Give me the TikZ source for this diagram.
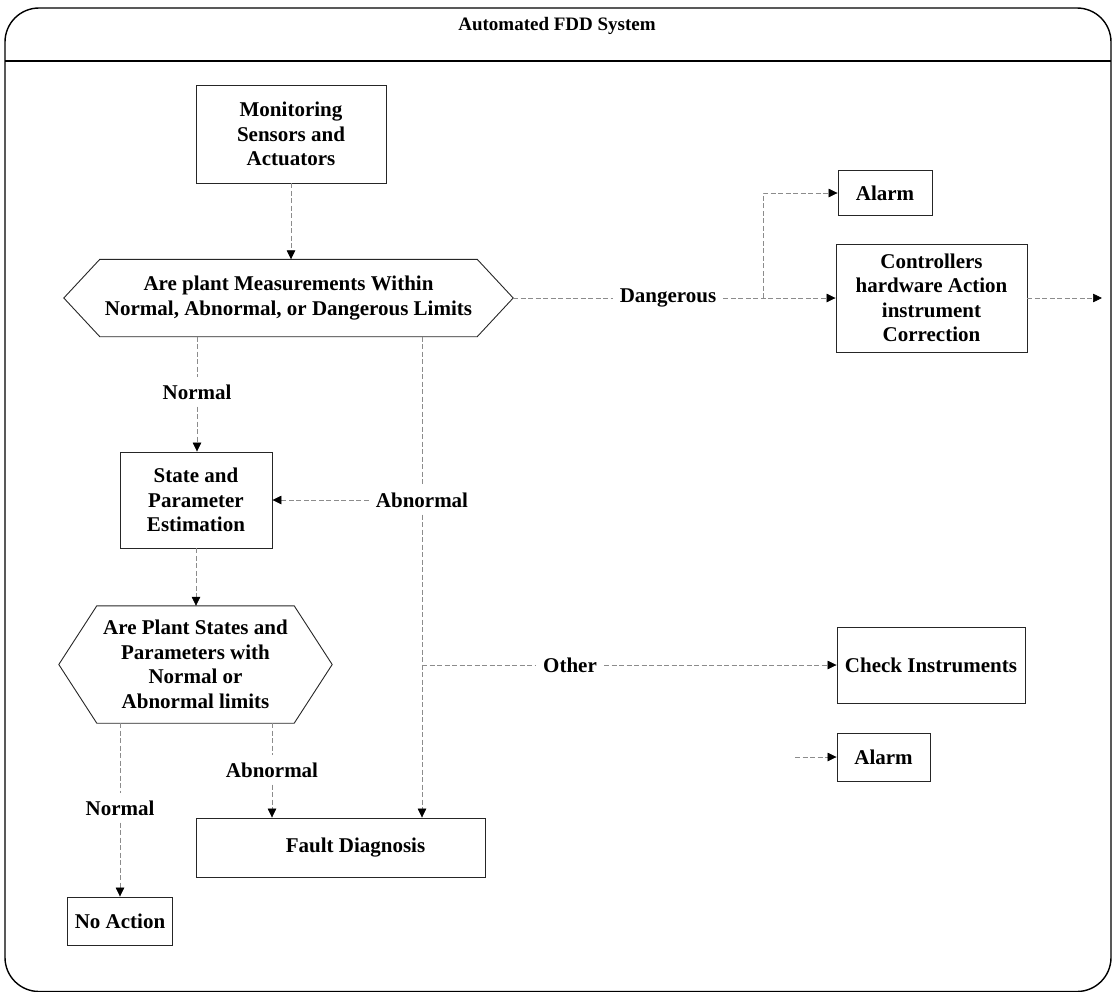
\documentclass[tikz,border=0pt]{standalone}
\usepackage{fontspec}
\setmainfont{Liberation Serif}
\usetikzlibrary{arrows.meta,calc}
% outline of a six-sided decision node, #1 = node name, #2 = horizontal cut
\newcommand\hexframe[2]{%
  \draw[boxline] (#1.west) -- ($(#1.north west)+(#2,0)$) -- ($(#1.north east)+(-#2,0)$)
    -- (#1.east) -- ($(#1.south east)+(-#2,0)$) -- ($(#1.south west)+(#2,0)$) -- cycle;}
\begin{document}
\begin{tikzpicture}[x=1pt,y=-1pt,
  txt/.style={font=\bfseries\fontsize{21}{24.5}\selectfont, inner sep=0pt, align=center},
  boxline/.style={draw=black!85, line width=0.9pt},
  box/.style={txt, boxline},
  lab/.style={txt, inner sep=7pt},
  seg/.style={draw=black!45, line width=0.7pt, dash pattern=on 5pt off 2.5pt},
  arr/.style={seg, -{Triangle[length=9pt,width=8.5pt,color=black]}}]
\useasboundingbox (0,0) rectangle (1114,991);

% frame and header
\draw[line width=1.4pt, rounded corners=34pt] (5,8) rectangle (1111,991.5);
\draw[line width=1.4pt] (5,61) -- (1111,61);
\node[txt, font=\bfseries\fontsize{19}{21}\selectfont] (title) at (557,26) {Automated FDD System};

% process boxes
\node[box, minimum width=190pt, minimum height=98pt] (mon) at (291,134) {Monitoring\\Sensors and\\Actuators};
\node[box, minimum width=152pt, minimum height=96pt] (st) at (196,500) {State and\\Parameter\\Estimation};
\node[box, minimum width=289pt, minimum height=59pt] (fd) at (340.5,847.5) {\hspace*{30pt}Fault Diagnosis};
\node[box, minimum width=105pt, minimum height=48pt] (na) at (120,921) {No Action};
\node[box, minimum width=94pt, minimum height=45pt] (al1) at (885,193) {Alarm};
\node[box, minimum width=191pt, minimum height=108pt] (ctl) at (931.5,298) {Controllers\\hardware Action\\instrument\\Correction};
\node[box, minimum width=188pt, minimum height=76pt] (ci) at (931,665) {Check Instruments};
\node[box, minimum width=93pt, minimum height=48pt] (al2) at (883.5,757) {Alarm};

% decision nodes
\node[txt, minimum width=449pt, minimum height=77pt] (h1) at (288.5,298) {Are plant Measurements Within\\Normal, Abnormal, or Dangerous Limits};
\hexframe{h1}{36}
\node[txt, minimum width=273pt, minimum height=117pt] (h2) at (195.5,664.5) {Are Plant States and\\Parameters with\\Normal or\\Abnormal limits};
\hexframe{h2}{38}

% branch labels
\node[lab] (n1) at (197,392) {Normal};
\node[lab] (ab1) at (422,500) {Abnormal};
\node[lab] (dg) at (668,298) {Dangerous};
\node[lab] (oth) at (570,665) {Other};
\node[lab] (ab2) at (272,770) {Abnormal};
\node[lab] (n2) at (120,808) {Normal};

% free ends and junctions
\coordinate (dj) at (763,298);
\coordinate (out) at (1102,298);
\coordinate (oj) at (422,665);
\coordinate (a2in) at (795,757);

% connectors
\draw[arr] (mon.south) -- (mon.south |- h1.north);
\draw[seg] (n1 |- h1.south) -- (n1);
\draw[arr] (n1) -- (n1 |- st.north);
\draw[seg] (ab1 |- h1.south) -- (ab1);
\draw[arr] (ab1) -- (st);
\draw[arr] (ab1) -- (ab1 |- fd.north);
\draw[seg] (oj) -- (oth);
\draw[arr] (oth) -- (ci);
\draw[seg] (h1.east) -- (dg);
\draw[arr] (dg) -- (ctl);
\draw[arr] (dj) |- (al1);
\draw[arr] (ctl) -- (out);
\draw[arr] (st.south) -- (st.south |- h2.north);
\draw[seg] (ab2 |- h2.south) -- (ab2);
\draw[arr] (ab2) -- (ab2 |- fd.north);
\draw[seg] (n2 |- h2.south) -- (n2);
\draw[arr] (n2) -- (n2 |- na.north);
\draw[arr] (a2in) -- (al2);
\end{tikzpicture}
\end{document}
